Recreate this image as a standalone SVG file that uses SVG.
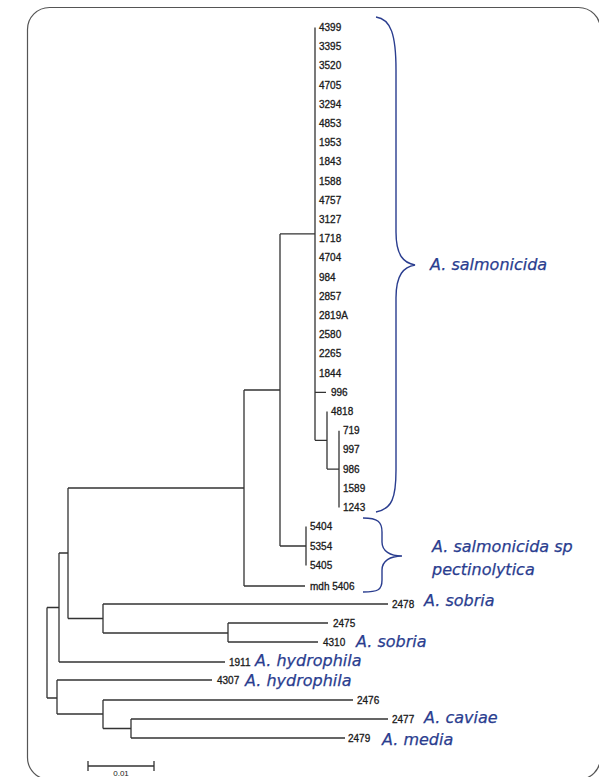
<svg xmlns="http://www.w3.org/2000/svg" width="599" height="777" viewBox="0 0 599 777">
<style>
.frame{fill:none;stroke:#555;stroke-width:1.2}
.br{fill:none;stroke:#333;stroke-width:1.3}
.brace{fill:none;stroke:#2a3d8f;stroke-width:1.4}
.lf{font-family:"Liberation Sans",Arial,sans-serif;font-size:10px;fill:#1a1a1a;stroke:#1a1a1a;stroke-width:0.3}
.sp{font-family:"DejaVu Sans",Verdana,sans-serif;font-style:italic;font-size:16px;fill:#2a3d8f;stroke:#2a3d8f;stroke-width:0.25}
.sc{font-family:"Liberation Sans",Arial,sans-serif;font-size:8px;fill:#222}
</style>
<rect class="frame" x="27.5" y="7.5" width="573" height="772" rx="22"/>
<g id="connectors">
<path class="br" d="M315,27.5V440.3 M315,392.3H326 M315,440.3H327 M327,411.5V469.1 M327,469.1H339 M339,430.7V507.5"/>
<path class="br" d="M280,233.9H315 M280,233.9V546 M280,546H306 M306,526.5V565.5"/>
<path class="br" d="M244,390H280 M244,390V586 M244,586H305"/>
<path class="br" d="M68,488H244 M68,488V618.5 M59,553H68"/>
<path class="br" d="M68,618.5H103 M103,604V633 M103,604H388 M103,633H228 M228,623V642 M228,623H328 M228,642H318"/>
<path class="br" d="M59,553V662 M59,662H225 M47,607.5H59 M47,607.5V698 M47,698H57"/>
<path class="br" d="M57,680V714 M57,680H212 M57,714H103 M103,700V728.5 M103,700H353 M103,728.5H131 M131,719V738 M131,719H388 M131,738H345"/>
<path class="br" d="M88,766H154 M88,761V771 M154,761V771"/>
</g>
<g id="leaves">
<g id="n4399"><text class="lf" x="319" y="31">4399</text></g>
<g id="n3395"><text class="lf" x="319" y="50.2">3395</text></g>
<g id="n3520"><text class="lf" x="319" y="69.4">3520</text></g>
<g id="n4705"><text class="lf" x="319" y="88.6">4705</text></g>
<g id="n3294"><text class="lf" x="319" y="107.8">3294</text></g>
<g id="n4853"><text class="lf" x="319" y="127">4853</text></g>
<g id="n1953"><text class="lf" x="319" y="146.2">1953</text></g>
<g id="n1843"><text class="lf" x="319" y="165.4">1843</text></g>
<g id="n1588"><text class="lf" x="319" y="184.6">1588</text></g>
<g id="n4757"><text class="lf" x="319" y="203.8">4757</text></g>
<g id="n3127"><text class="lf" x="319" y="223">3127</text></g>
<g id="n1718"><text class="lf" x="319" y="242.2">1718</text></g>
<g id="n4704"><text class="lf" x="319" y="261.4">4704</text></g>
<g id="n984"><text class="lf" x="319" y="280.6">984</text></g>
<g id="n2857"><text class="lf" x="319" y="299.8">2857</text></g>
<g id="n2819A"><text class="lf" x="319" y="319">2819A</text></g>
<g id="n2580"><text class="lf" x="319" y="338.2">2580</text></g>
<g id="n2265"><text class="lf" x="319" y="357.4">2265</text></g>
<g id="n1844"><text class="lf" x="319" y="376.6">1844</text></g>
<g id="n996"><text class="lf" x="331" y="395.8">996</text></g>
<g id="n4818"><text class="lf" x="331" y="415">4818</text></g>
<g id="n719"><text class="lf" x="343" y="434.2">719</text></g>
<g id="n997"><text class="lf" x="343" y="453.4">997</text></g>
<g id="n986"><text class="lf" x="343" y="472.6">986</text></g>
<g id="n1589"><text class="lf" x="343" y="491.8">1589</text></g>
<g id="n1243"><text class="lf" x="343" y="511">1243</text></g>
<g id="n5404"><text class="lf" x="310" y="530">5404</text></g>
<g id="n5354"><text class="lf" x="310" y="549.5">5354</text></g>
<g id="n5405"><text class="lf" x="310" y="569">5405</text></g>
<g id="n5406"><text class="lf" x="310" y="589.5">mdh 5406</text></g>
<g id="n2478"><text class="lf" x="392" y="607.5">2478</text><text class="sp" x="424" y="606">A. sobria</text></g>
<g id="n2475"><text class="lf" x="333" y="626.5">2475</text></g>
<g id="n4310"><text class="lf" x="323" y="645.5">4310</text><text class="sp" x="356" y="647">A. sobria</text></g>
<g id="n1911"><text class="lf" x="229" y="665.5">1911</text><text class="sp" x="255" y="666">A. hydrophila</text></g>
<g id="n4307"><text class="lf" x="217" y="683.5">4307</text><text class="sp" x="245" y="686">A. hydrophila</text></g>
<g id="n2476"><text class="lf" x="357" y="703.5">2476</text></g>
<g id="n2477"><text class="lf" x="392" y="722.5">2477</text><text class="sp" x="424" y="723">A. caviae</text></g>
<g id="n2479"><text class="lf" x="348" y="741.5">2479</text><text class="sp" x="382" y="745">A. media</text></g>
</g>
<g id="salmonicida">
<path class="brace" d="M376,17 C391,19 396,35 396,70 L396,232 C396,256 404,263 415,265 C404,267 396,274 396,298 L396,470 C396,498 392,509 376,512"/>
<text class="sp" x="430" y="270">A. salmonicida</text>
</g>
<g id="pectinolytica">
<path class="brace" d="M363,518 C378,518 382,522 382,532 L382,542 C382,551 390,556 402,556 C390,556 382,561 382,570 L382,580 C382,590 378,592 363,592"/>
<text class="sp" x="432" y="552">A. salmonicida sp</text>
<text class="sp" x="432" y="575">pectinolytica</text>
</g>
<g id="scale"><text class="sc" x="121" y="776" text-anchor="middle">0.01</text></g>
</svg>
